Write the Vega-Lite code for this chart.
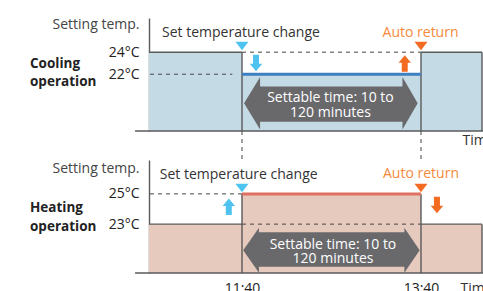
{
  "$schema": "https://vega.github.io/schema/vega-lite/v6.json",
  "background": "white",
  "padding": {"left": 30, "top": 17, "right": 0, "bottom": 0},
  "bounds": "flush",
  "spacing": 29,
  "resolve": {"scale": {"shape": "independent"}},
  "config": {
    "view": {"stroke": null},
    "font": "Open Sans",
    "axis": {"domainColor": "#5a5a5a", "domainWidth": 1.4, "ticks": false, "grid": false, "labelFont": "Open Sans", "labelFontSize": 14, "labelColor": "#222", "titleFont": "Open Sans", "titleFontSize": 14, "titleFontWeight": "normal", "titleColor": "#444"}
  },
  "datasets": {
    "coolFill": [{"x": 637.65, "y": 24}, {"x": 700, "y": 22}, {"x": 820, "y": 24}, {"x": 860.9, "y": 24}],
    "heatFill": [{"x": 637.65, "y": 23}, {"x": 700, "y": 25}, {"x": 820, "y": 23}, {"x": 860.9, "y": 23}],
    "coolBody": [{"x": 711.3, "x2": 808.4, "y": 20.88, "y2": 17.69}],
    "heatBody": [{"x": 710.6, "x2": 809.6, "y": 22.46, "y2": 20.19}],
    "coolHeads": [{"x": 711.6, "y": 19.36, "side": "left"}, {"x": 808.1, "y": 19.36, "side": "right"}],
    "heatHeads": [{"x": 710.9, "y": 21.28, "side": "left"}, {"x": 809.3, "y": 21.28, "side": "right"}],
    "coolSolid": [
      {"x": 637.65, "x2": 700, "y": 24, "y2": 24},
      {"x": 700, "x2": 700, "y": 24, "y2": 16.85},
      {"x": 820, "x2": 820, "y": 24, "y2": 16.85},
      {"x": 820, "x2": 860.9, "y": 24, "y2": 24},
      {"x": 860.9, "x2": 860.9, "y": 24, "y2": 16.85},
      {"x": 628.3, "x2": 862, "y": 16.85, "y2": 16.85}
    ],
    "heatSolid": [
      {"x": 637.65, "x2": 700, "y": 23, "y2": 23},
      {"x": 700, "x2": 700, "y": 25, "y2": 19.77},
      {"x": 820, "x2": 820, "y": 25, "y2": 19.77},
      {"x": 820, "x2": 860.9, "y": 23, "y2": 23},
      {"x": 860.9, "x2": 860.9, "y": 23, "y2": 19.77},
      {"x": 628.3, "x2": 862, "y": 19.77, "y2": 19.77}
    ],
    "coolDash": [
      {"x": 638.3, "x2": 693.5, "y": 22, "y2": 22},
      {"x": 700, "x2": 820, "y": 24, "y2": 24},
      {"x": 700, "x2": 700, "y": 16.85, "y2": 14.2},
      {"x": 820, "x2": 820, "y": 16.85, "y2": 14.2}
    ],
    "heatDash": [
      {"x": 638.3, "x2": 700, "y": 25, "y2": 25},
      {"x": 700, "x2": 820, "y": 23, "y2": 23}
    ],
    "coolSet": [{"x": 700, "x2": 820, "y": 22, "y2": 22}],
    "heatSet": [{"x": 700, "x2": 820, "y": 25, "y2": 25}],
    "coolEvents": [
      {"ev": "change", "label": "Set temperature change", "x": 700, "tx": 699.3, "ty": 25.74, "my": 24.56},
      {"ev": "return", "label": "Auto return", "x": 820, "tx": 819.7, "ty": 25.74, "my": 24.56}
    ],
    "heatEvents": [
      {"ev": "change", "label": "Set temperature change", "x": 700, "tx": 697.8, "ty": 26.25, "my": 25.39},
      {"ev": "return", "label": "Auto return", "x": 820, "tx": 820, "ty": 26.29, "my": 25.39}
    ],
    "coolMoves": [
      {"ev": "change", "dir": "down", "x": 709.4, "y": 23.02},
      {"ev": "return", "dir": "up", "x": 809.1, "y": 22.97}
    ],
    "heatMoves": [
      {"ev": "change", "dir": "up", "x": 691.15, "y": 24.15},
      {"ev": "return", "dir": "down", "x": 830.7, "y": 24.27}
    ],
    "coolNotes": [
      {"x": 759.3, "y": 19.84, "label": "Settable time: 10 to"},
      {"x": 759.3, "y": 18.48, "label": "120 minutes"}
    ],
    "heatNotes": [
      {"x": 761, "y": 21.62, "label": "Settable time:  10 to"},
      {"x": 761, "y": 20.68, "label": "120 minutes"}
    ],
    "coolName": [
      {"x": 557.87, "y": 22.93, "label": "Cooling"},
      {"x": 557.87, "y": 21.29, "label": "operation"}
    ],
    "heatName": [
      {"x": 557.87, "y": 24.05, "label": "Heating"},
      {"x": 557.87, "y": 22.84, "label": "operation"}
    ]
  },
  "vconcat": [
    {
      "width": 333,
      "height": 113,
      "encoding": {
        "x": {"field": "x", "type": "quantitative", "scale": {"domain": [637.65, 860.9], "nice": false, "zero": false},
          "axis": {"domain": false, "labels": false, "title": "Time", "titleX": 313, "titleY": 9, "titleAlign": "left", "titleBaseline": "middle", "titleColor": "#333"}},
        "y": {"field": "y", "type": "quantitative", "scale": {"domain": [16.85, 27.1], "nice": false, "zero": false},
          "axis": {"values": [22, 24], "labelExpr": "datum.value + '°C'", "labelPadding": 10, "title": "Setting temp.", "titleAngle": 0, "titleAlign": "right", "titleBaseline": "middle", "titleX": -10, "titleY": 6}}
      },
      "layer": [
        {"data": {"name": "coolFill"}, "mark": {"type": "area", "interpolate": "step-after", "color": "#c4dbe6"}, "encoding": {"y2": {"datum": 16.85}}},
        {"data": {"name": "coolBody"}, "mark": {"type": "rect", "color": "#69696c"}, "encoding": {"x2": {"field": "x2"}, "y2": {"field": "y2"}}},
        {"data": {"name": "coolHeads"}, "mark": {"type": "point", "filled": true, "opacity": 1, "size": 2756, "color": "#69696c", "strokeWidth": 0},
          "encoding": {"shape": {"field": "side", "type": "nominal", "scale": {"domain": ["left", "right", "down", "up"], "range": ["M0.03,-1L0.03,1L-0.58,0Z", "M-0.03,-1L-0.03,1L0.55,0Z", "M-0.36,-1L0.36,-1L0.36,0.1L0.75,0.1L0,1L-0.75,0.1L-0.36,0.1Z", "M-0.36,1L0.36,1L0.36,-0.1L0.75,-0.1L0,-1L-0.75,-0.1L-0.36,-0.1Z"]}, "legend": null}}},
        {"data": {"name": "coolDash"}, "mark": {"type": "rule", "color": "#444", "strokeWidth": 1, "strokeDash": [4, 4]}, "encoding": {"x2": {"field": "x2"}, "y2": {"field": "y2"}}},
        {"data": {"name": "coolSolid"}, "mark": {"type": "rule", "color": "#5a5a5a", "strokeWidth": 1.4}, "encoding": {"x2": {"field": "x2"}, "y2": {"field": "y2"}}},
        {"data": {"name": "coolSet"}, "mark": {"type": "rule", "color": "#3d7fc1", "strokeWidth": 3}, "encoding": {"x2": {"field": "x2"}, "y2": {"field": "y2"}}},
        {"data": {"name": "coolEvents"}, "mark": {"type": "point", "shape": "M-1,-0.64L1,-0.64L0,0.64Z", "filled": true, "opacity": 1, "size": 169},
          "encoding": {"y": {"field": "my"}, "color": {"field": "ev", "type": "nominal", "scale": {"domain": ["change", "return"], "range": ["#4fc3ef", "#f26b21"]}, "legend": null}}},
        {"data": {"name": "coolMoves"}, "mark": {"type": "point", "filled": true, "opacity": 1, "size": 275},
          "encoding": {"shape": {"field": "dir", "type": "nominal", "scale": {"domain": ["left", "right", "down", "up"], "range": ["M0.03,-1L0.03,1L-0.58,0Z", "M-0.03,-1L-0.03,1L0.55,0Z", "M-0.36,-1L0.36,-1L0.36,0.1L0.75,0.1L0,1L-0.75,0.1L-0.36,0.1Z", "M-0.36,1L0.36,1L0.36,-0.1L0.75,-0.1L0,-1L-0.75,-0.1L-0.36,-0.1Z"]}, "legend": null},
            "color": {"field": "ev", "type": "nominal", "legend": null}}},
        {"data": {"name": "coolEvents"}, "transform": [{"filter": "datum.ev == 'change'"}], "mark": {"type": "text", "fontSize": 14, "color": "#333", "align": "center", "baseline": "middle"},
          "encoding": {"x": {"field": "tx"}, "y": {"field": "ty"}, "text": {"field": "label"}}},
        {"data": {"name": "coolEvents"}, "transform": [{"filter": "datum.ev == 'return'"}], "mark": {"type": "text", "fontSize": 14, "color": "#f58a3c", "align": "center", "baseline": "middle"},
          "encoding": {"x": {"field": "tx"}, "y": {"field": "ty"}, "text": {"field": "label"}}},
        {"data": {"name": "coolNotes"}, "mark": {"type": "text", "fontSize": 14, "color": "white", "align": "center", "baseline": "middle"}, "encoding": {"text": {"field": "label"}}},
        {"data": {"name": "coolName"}, "mark": {"type": "text", "fontSize": 13.5, "fontWeight": "bold", "color": "#222", "align": "left", "baseline": "middle"}, "encoding": {"text": {"field": "label"}}}
      ]
    },
    {
      "width": 333,
      "height": 113,
      "encoding": {
        "x": {"field": "x", "type": "quantitative", "scale": {"domain": [637.65, 860.9], "nice": false, "zero": false},
          "axis": {"domain": false, "values": [700, 820], "labelExpr": "datum.value == 700 ? '11:40' : '13:40'", "labelPadding": 8, "labelFlush": false, "title": "Time", "titleX": 311, "titleY": 15, "titleAlign": "left", "titleBaseline": "middle", "titleColor": "#333"}},
        "y": {"field": "y", "type": "quantitative", "scale": {"domain": [19.77, 27.24], "nice": false, "zero": false},
          "axis": {"values": [23, 25], "labelExpr": "datum.value + '°C'", "labelPadding": 10, "title": "Setting temp.", "titleAngle": 0, "titleAlign": "right", "titleBaseline": "middle", "titleX": -10, "titleY": 8}}
      },
      "layer": [
        {"data": {"name": "heatFill"}, "mark": {"type": "area", "interpolate": "step-after", "color": "#e6cabd"}, "encoding": {"y2": {"datum": 19.77}}},
        {"data": {"name": "heatBody"}, "mark": {"type": "rect", "color": "#69696c"}, "encoding": {"x2": {"field": "x2"}, "y2": {"field": "y2"}}},
        {"data": {"name": "heatHeads"}, "mark": {"type": "point", "filled": true, "opacity": 1, "size": 2025, "color": "#69696c", "strokeWidth": 0},
          "encoding": {"shape": {"field": "side", "type": "nominal", "scale": {"domain": ["left", "right", "down", "up"], "range": ["M0.03,-1L0.03,1L-0.67,0Z", "M-0.03,-1L-0.03,1L0.65,0Z", "M-0.36,-1L0.36,-1L0.36,0.1L0.75,0.1L0,1L-0.75,0.1L-0.36,0.1Z", "M-0.36,1L0.36,1L0.36,-0.1L0.75,-0.1L0,-1L-0.75,-0.1L-0.36,-0.1Z"]}, "legend": null}}},
        {"data": {"name": "heatDash"}, "mark": {"type": "rule", "color": "#444", "strokeWidth": 1, "strokeDash": [4, 4]}, "encoding": {"x2": {"field": "x2"}, "y2": {"field": "y2"}}},
        {"data": {"name": "heatSolid"}, "mark": {"type": "rule", "color": "#5a5a5a", "strokeWidth": 1.4}, "encoding": {"x2": {"field": "x2"}, "y2": {"field": "y2"}}},
        {"data": {"name": "heatSet"}, "mark": {"type": "rule", "color": "#e07060", "strokeWidth": 3}, "encoding": {"x2": {"field": "x2"}, "y2": {"field": "y2"}}},
        {"data": {"name": "heatEvents"}, "mark": {"type": "point", "shape": "M-1,-0.64L1,-0.64L0,0.64Z", "filled": true, "opacity": 1, "size": 169},
          "encoding": {"y": {"field": "my"}, "color": {"field": "ev", "type": "nominal", "scale": {"domain": ["change", "return"], "range": ["#4fc3ef", "#f26b21"]}, "legend": null}}},
        {"data": {"name": "heatMoves"}, "mark": {"type": "point", "filled": true, "opacity": 1, "size": 275},
          "encoding": {"shape": {"field": "dir", "type": "nominal", "scale": {"domain": ["left", "right", "down", "up"], "range": ["M0.03,-1L0.03,1L-0.67,0Z", "M-0.03,-1L-0.03,1L0.65,0Z", "M-0.36,-1L0.36,-1L0.36,0.1L0.75,0.1L0,1L-0.75,0.1L-0.36,0.1Z", "M-0.36,1L0.36,1L0.36,-0.1L0.75,-0.1L0,-1L-0.75,-0.1L-0.36,-0.1Z"]}, "legend": null},
            "color": {"field": "ev", "type": "nominal", "legend": null}}},
        {"data": {"name": "heatEvents"}, "transform": [{"filter": "datum.ev == 'change'"}], "mark": {"type": "text", "fontSize": 14, "color": "#333", "align": "center", "baseline": "middle"},
          "encoding": {"x": {"field": "tx"}, "y": {"field": "ty"}, "text": {"field": "label"}}},
        {"data": {"name": "heatEvents"}, "transform": [{"filter": "datum.ev == 'return'"}], "mark": {"type": "text", "fontSize": 14, "color": "#f58a3c", "align": "center", "baseline": "middle"},
          "encoding": {"x": {"field": "tx"}, "y": {"field": "ty"}, "text": {"field": "label"}}},
        {"data": {"name": "heatNotes"}, "mark": {"type": "text", "fontSize": 14, "color": "white", "align": "center", "baseline": "middle"}, "encoding": {"text": {"field": "label"}}},
        {"data": {"name": "heatName"}, "mark": {"type": "text", "fontSize": 13.5, "fontWeight": "bold", "color": "#222", "align": "left", "baseline": "middle"}, "encoding": {"text": {"field": "label"}}}
      ]
    }
  ]
}
